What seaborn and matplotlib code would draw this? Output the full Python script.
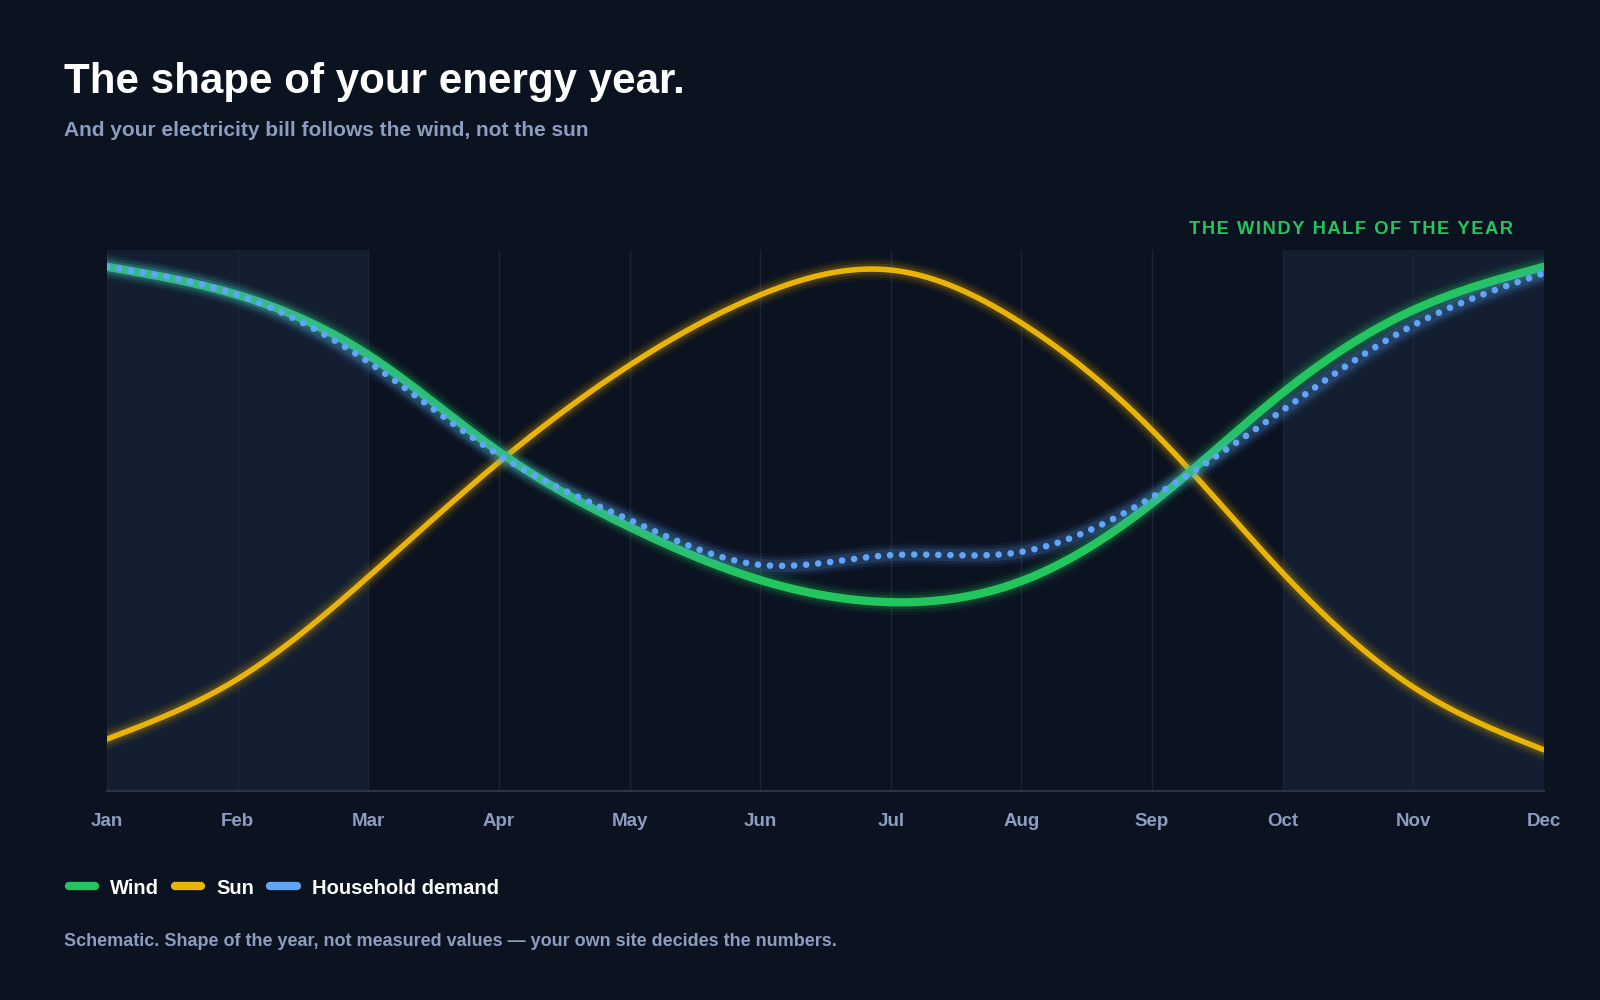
import numpy as np
import pandas as pd
import seaborn as sns
import matplotlib
matplotlib.use("Agg")
import matplotlib.pyplot as plt
from matplotlib.lines import Line2D

# ---------------- data (0-100 schematic scale) ----------------
months = ["Jan", "Feb", "Mar", "Apr", "May", "Jun", "Jul", "Aug", "Sep", "Oct", "Nov", "Dec"]
wind = [96.9, 91.7, 80.6, 62.7, 48.8, 39.0, 34.9, 38.8, 53.2, 73.6, 88.9, 96.9]
sun = [9.6, 20.7, 39.6, 60.8, 78.7, 91.7, 96.3, 86.5, 66.7, 40.3, 19.2, 7.6]
demand = [96.9, 91.7, 79.3, 62.1, 50.1, 41.8, 43.6, 44.2, 54.3, 70.4, 86.1, 95.7]
windy_months = [("Jan", "Mar"), ("Oct", "Dec")]

title = "The shape of your energy year."
subtitle = "And your electricity bill follows the wind, not the sun"
annotation = "THE WINDY HALF OF THE YEAR"
footer = "Schematic. Shape of the year, not measured values \u2014 your own site decides the numbers."

BG = "#0b1220"
BAND = "#131e30"
GRID = "#1b2536"
MUTED = "#8d9dbf"
GREEN = "#22c55e"
AMBER = "#eab308"
BLUE = "#60a5fa"


def smooth(xv, yv, n=400):
    """Natural cubic spline through the monthly values (rendering only)."""
    x = np.asarray(xv, float)
    y = np.asarray(yv, float)
    k = len(x)
    h = np.diff(x)
    A = np.zeros((k, k))
    b = np.zeros(k)
    A[0, 0] = A[-1, -1] = 1
    for i in range(1, k - 1):
        A[i, i - 1] = h[i - 1]
        A[i, i] = 2 * (h[i - 1] + h[i])
        A[i, i + 1] = h[i]
        b[i] = 3 * ((y[i + 1] - y[i]) / h[i] - (y[i] - y[i - 1]) / h[i - 1])
    c = np.linalg.solve(A, b)
    bb = (y[1:] - y[:-1]) / h - h * (2 * c[:-1] + c[1:]) / 3
    d = (c[1:] - c[:-1]) / (3 * h)
    xs = np.linspace(x[0], x[-1], n)
    idx = np.clip(np.searchsorted(x, xs) - 1, 0, k - 2)
    t = xs - x[idx]
    ys = y[idx] + bb[idx] * t + c[idx] * t ** 2 + d[idx] * t ** 3
    return xs, ys


sns.set_theme(style="dark")
plt.rcParams["font.family"] = ["Liberation Sans", "DejaVu Sans"]
plt.rcParams["font.weight"] = "bold"

fig = plt.figure(figsize=(16, 10), dpi=100, facecolor=BG)
ax = fig.add_axes([0.0669, 0.209, 0.8981, 0.541])
ax.set_facecolor(BG)

xpos = np.arange(len(months))
# windy bands
for a, b_ in windy_months:
    ax.axvspan(months.index(a), months.index(b_), color=BAND, zorder=0, lw=0)
# vertical grid
for xp in xpos:
    ax.axvline(xp, color=GRID, lw=1, zorder=0.5)

series = [("Sun", sun, AMBER, 4.0, "-"), ("Wind", wind, GREEN, 6.0, "-"), ("Household demand", demand, BLUE, 4.8, ":")]
z = 2
for name, vals, col, lw, ls in series:
    xs, ys = smooth(xpos, vals)
    df = pd.DataFrame({"x": xs, "y": ys})
    for extra, alpha in [(12, 0.05), (8, 0.09), (4, 0.15)]:
        sns.lineplot(data=df, x="x", y="y", ax=ax, color=col, lw=lw + extra, alpha=alpha,
                     zorder=z, solid_capstyle="round", legend=False, sort=False)
    if ls == ":":
        sns.lineplot(data=df, x="x", y="y", ax=ax, color=col, lw=lw, zorder=z + 0.5,
                     linestyle=(0, (0.01, 1.8)), dash_capstyle="round", legend=False, sort=False)
    else:
        sns.lineplot(data=df, x="x", y="y", ax=ax, color=col, lw=lw, zorder=z + 0.5,
                     solid_capstyle="round", legend=False, sort=False)
    z += 1

ax.set_xlim(0, len(months) - 1)
ax.set_ylim(0, 100)
ax.set_xlabel("")
ax.set_ylabel("")
ax.set_yticks([])
ax.set_xticks(xpos)
ax.set_xticklabels(months, color=MUTED, fontsize=13.5, fontweight="bold")
ax.tick_params(axis="x", length=0, pad=16)
for s in ["top", "right", "left"]:
    ax.spines[s].set_visible(False)
ax.spines["bottom"].set_color("#2a3549")
ax.spines["bottom"].set_linewidth(1.5)
ax.grid(False)

# annotation above the windy half (letter-spaced with hair spaces)
spaced = "\u200a".join(annotation)
ax.text(1.0 - 31 / 1437, 1.0 + 21 / 541, spaced, transform=ax.transAxes, ha="right", va="center",
        color=GREEN, fontsize=13.2, fontweight="bold")

fig.text(0.04, 1 - 82 / 1000, title, color="white", fontsize=30.3, fontweight="bold", va="center")
fig.text(0.04, 1 - 131 / 1000, subtitle, color=MUTED, fontsize=15, fontweight="bold", va="center")
fig.text(0.04, 1 - 942 / 1000, footer, color=MUTED, fontsize=13, fontweight="bold", va="center")

handles = [Line2D([], [], color=GREEN, lw=6, solid_capstyle="round"),
           Line2D([], [], color=AMBER, lw=6, solid_capstyle="round"),
           Line2D([], [], color=BLUE, lw=6, solid_capstyle="round")]
leg = fig.legend(handles, ["Wind", "Sun", "Household demand"], loc="center left",
                 bbox_to_anchor=(0.043, 1 - 888 / 1000), ncol=3, frameon=False,
                 handlelength=1.3, handletextpad=0.75, columnspacing=0.8, borderpad=0,
                 borderaxespad=0, prop={"weight": "bold", "size": 14.5})
for t in leg.get_texts():
    t.set_color("white")

fig.savefig("out.png", dpi=100, facecolor=BG)
